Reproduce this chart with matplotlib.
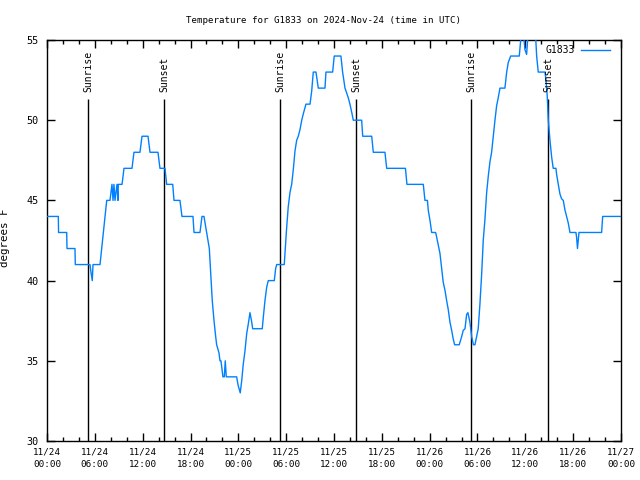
import matplotlib
matplotlib.use("Agg")
import matplotlib.pyplot as plt
import numpy as np

# Data: hours since 2024-11-24 00:00 UTC, temperature (F)
hours = [0.0, 1.42, 1.45, 2.47, 2.51, 3.51, 3.55, 5.39, 5.52, 5.68, 5.77, 6.65,
         6.86, 7.06, 7.27, 7.49, 7.90, 8.15, 8.28, 8.40, 8.53, 8.78, 8.90, 8.94,
         9.41, 9.66, 10.66, 10.91, 11.66, 11.92, 12.67, 12.92, 13.92, 14.17, 14.80,
         15.01, 15.77, 15.93, 16.68, 16.93, 18.31, 18.44, 19.19, 19.44, 19.69, 20.03,
         20.36, 20.53, 20.73, 20.95, 21.16, 21.28, 21.57, 21.70, 21.82, 22.07, 22.24,
         22.36, 22.49, 22.74, 23.79, 23.96, 24.24, 24.42, 24.62, 24.83, 25.05, 25.25,
         25.46, 25.65, 25.80, 27.00, 27.13, 27.34, 27.56, 27.76, 28.51, 28.68, 28.81,
         29.76, 30.06, 30.26, 30.48, 30.69, 30.89, 31.11, 31.32, 31.52, 31.73, 31.95,
         32.15, 32.48, 32.99, 33.20, 33.40, 33.74, 34.03, 34.87, 34.99, 35.83, 36.03,
         36.87, 37.08, 37.38, 37.79, 38.00, 38.22, 38.42, 39.47, 39.60, 40.73, 40.93,
         42.39, 42.61, 44.96, 45.15, 47.20, 47.41, 47.72, 47.82, 48.04, 48.25, 48.75,
         48.88, 49.08, 49.29, 49.50, 49.70, 49.92, 50.13, 50.33, 50.55, 50.76, 50.96,
         51.13, 51.71, 52.01, 52.21, 52.43, 52.64, 52.80, 53.05, 53.27, 53.49, 53.68,
         53.89, 54.09, 54.30, 54.52, 54.72, 54.93, 55.15, 55.35, 55.56, 55.77, 55.98,
         56.19, 56.40, 56.60, 56.82, 57.44, 57.66, 57.86, 58.16, 59.24, 59.42, 59.75,
         59.95, 60.16, 60.36, 61.21, 61.42, 61.62, 62.46, 62.59, 62.75, 62.88, 63.09,
         63.30, 63.50, 63.84, 63.93, 64.13, 64.34, 64.55, 64.76, 64.97, 65.18, 65.38,
         65.60, 66.35, 66.43, 66.54, 66.73, 69.57, 69.70, 72.0]
temps = [44, 44, 43, 43, 42, 42, 41, 41, 40.5, 40, 41, 41,
         42, 43, 44, 45, 45, 46, 45, 46, 45, 46, 45, 46,
         46, 47, 47, 48, 48, 49, 49, 48, 48, 47, 47,
         46, 46, 45, 45, 44, 44, 43, 43, 44, 44, 43,
         42, 40.5, 38.75, 37.5, 36.5, 36, 35.5, 35, 35, 34, 34,
         35, 34, 34, 34, 33.5, 33, 33.75, 34.8, 35.6, 36.7, 37.3,
         38, 37.5, 37, 37, 37.7, 38.75, 39.6, 40, 40, 40.75, 41,
         41, 43.3, 44.6, 45.5, 46, 46.9, 48.1, 48.75, 49, 49.4, 50,
         50.4, 51, 51, 51.8, 53, 53, 52, 52, 53, 53, 54,
         54, 53, 52, 51.4, 51, 50.5, 50, 50, 49, 49, 48,
         48, 47, 47, 46, 46, 45, 45, 44.4, 43.75, 43, 43,
         42.7, 42.2, 41.7, 40.8, 39.9, 39.4, 38.75, 38.2, 37.4, 36.9, 36.35,
         36, 36, 36.5, 36.9, 37, 37.9, 38, 37.4, 36.5, 36, 36,
         36.5, 37, 38.5, 40.4, 42.5, 43.8, 45.5, 46.5, 47.4, 48, 49,
         50, 50.9, 51.4, 52, 52, 53, 53.6, 54, 54, 55, 55.5,
         54.4, 54.1, 55.5, 56, 54, 53, 53, 52.5, 51.5, 50, 48.75,
         47.7, 47, 47, 46.6, 46, 45.4, 45.1, 45, 44.4, 44, 43.6,
         43, 43, 42.7, 42, 43, 43, 44, 44]

sunrise = [5.2, 29.28, 53.23]
sunset = [14.72, 38.82, 62.88]
xtick_labels = ["11/24\n00:00", "11/24\n06:00", "11/24\n12:00", "11/24\n18:00",
                "11/25\n00:00", "11/25\n06:00", "11/25\n12:00", "11/25\n18:00",
                "11/26\n00:00", "11/26\n06:00", "11/26\n12:00", "11/26\n18:00",
                "11/27\n00:00"]

plt.rcParams['font.family'] = ['DejaVu Sans Mono']
fig = plt.figure(figsize=(6.4, 4.8), dpi=100)
ax = fig.add_axes([47/640, 39/480, 574/640, 401/480])

ax.plot(hours, temps, color='#0080ff', lw=1.0, label='G1833', zorder=3)

line_top = 51.3
for h in sunrise:
    ax.vlines(h, 30, line_top, color='black', lw=1.0, zorder=2)
    ax.text(h, 51.75, 'Sunrise', rotation=90, ha='center', va='bottom', fontsize=7)
for h in sunset:
    ax.vlines(h, 30, line_top, color='black', lw=1.0, zorder=2)
    ax.text(h, 51.75, 'Sunset', rotation=90, ha='center', va='bottom', fontsize=7)

ax.set_xlim(0, 72)
ax.set_ylim(30, 55)
ax.set_xticks(np.arange(0, 73, 6))
ax.set_xticklabels(xtick_labels, fontsize=6.7, linespacing=1.45)
ax.set_xticks(np.arange(0, 73, 2), minor=True)
ax.set_yticks(np.arange(30, 56, 5))
ax.set_yticklabels([str(v) for v in range(30, 56, 5)], fontsize=7.3)
ax.tick_params(axis='both', which='major', direction='in', length=6, width=1,
               top=True, right=True)
ax.tick_params(axis='y', which='major', pad=6)
ax.tick_params(axis='x', which='major', pad=5)
ax.tick_params(axis='x', which='minor', direction='in', length=3, width=1,
               top=True, bottom=True)
for s in ax.spines.values():
    s.set_linewidth(1.0)

ax.set_ylabel('degrees F', fontsize=7.8)
ax.yaxis.set_label_coords(-(47 - 10) / 574, (441 - 237.5) / 401)
fig.text(0.505, 0.957, 'Temperature for G1833 on 2024-Nov-24 (time in UTC)',
         ha='center', va='center', fontsize=6.6)

leg = ax.legend(loc='upper right', bbox_to_anchor=((610 - 47) / 574, (441 - 45) / 401),
                frameon=False, markerfirst=False, fontsize=7, handlelength=3.0,
                borderpad=0, borderaxespad=0, handletextpad=0.66)

fig.savefig('out.png', dpi=100)
